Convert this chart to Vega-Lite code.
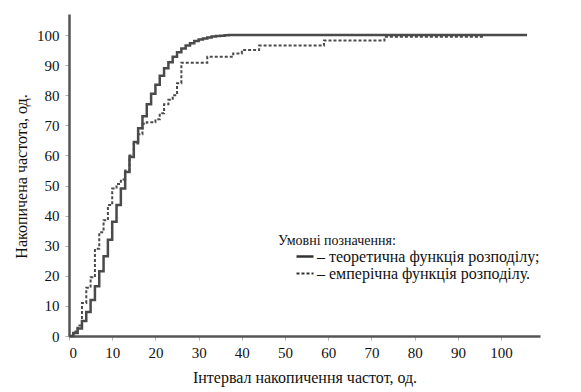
{
  "$schema": "https://vega.github.io/schema/vega-lite/v6.json",
  "width": 471,
  "height": 322,
  "autosize": {"type": "none"},
  "padding": {"left": 69, "top": 14, "right": 41, "bottom": 56},
  "background": "white",
  "config": {
    "view": {"stroke": null},
    "font": "Liberation Serif",
    "axis": {
      "labelFont": "Liberation Serif",
      "titleFont": "Liberation Serif",
      "labelFontSize": 15,
      "titleFontSize": 16,
      "titleFontWeight": "normal",
      "labelColor": "#111",
      "titleColor": "#111",
      "grid": false,
      "labelOverlap": false,
      "domainColor": "#555555",
      "domainWidth": 2.5,
      "tickColor": "#b0b0b0",
      "tickSize": 4
    },
    "legend": {"labelFont": "Liberation Serif", "labelFontSize": 16, "labelColor": "#111"},
    "title": {"font": "Liberation Serif", "fontSize": 14, "fontWeight": "normal", "color": "#111"}
  },
  "title": {
    "text": "Умовні позначення:",
    "anchor": "start",
    "frame": "group",
    "orient": "top",
    "baseline": "middle",
    "offset": 0,
    "dx": 209,
    "dy": 241
  },
  "datasets": {
    "cdf": [
      {"x": 0, "y": 0, "s": "– теоретична функція розподілу;"},
      {"x": 1, "y": 1, "s": "– теоретична функція розподілу;"},
      {"x": 2, "y": 2.5, "s": "– теоретична функція розподілу;"},
      {"x": 3, "y": 5, "s": "– теоретична функція розподілу;"},
      {"x": 4, "y": 8, "s": "– теоретична функція розподілу;"},
      {"x": 5, "y": 12, "s": "– теоретична функція розподілу;"},
      {"x": 6, "y": 16.5, "s": "– теоретична функція розподілу;"},
      {"x": 7, "y": 21.5, "s": "– теоретична функція розподілу;"},
      {"x": 8, "y": 26.5, "s": "– теоретична функція розподілу;"},
      {"x": 9, "y": 32, "s": "– теоретична функція розподілу;"},
      {"x": 10, "y": 38, "s": "– теоретична функція розподілу;"},
      {"x": 11, "y": 43.5, "s": "– теоретична функція розподілу;"},
      {"x": 12, "y": 49, "s": "– теоретична функція розподілу;"},
      {"x": 13, "y": 54.5, "s": "– теоретична функція розподілу;"},
      {"x": 14, "y": 59.5, "s": "– теоретична функція розподілу;"},
      {"x": 15, "y": 64.5, "s": "– теоретична функція розподілу;"},
      {"x": 16, "y": 69, "s": "– теоретична функція розподілу;"},
      {"x": 17, "y": 73, "s": "– теоретична функція розподілу;"},
      {"x": 18, "y": 77, "s": "– теоретична функція розподілу;"},
      {"x": 19, "y": 80.5, "s": "– теоретична функція розподілу;"},
      {"x": 20, "y": 83.5, "s": "– теоретична функція розподілу;"},
      {"x": 21, "y": 86.5, "s": "– теоретична функція розподілу;"},
      {"x": 22, "y": 89, "s": "– теоретична функція розподілу;"},
      {"x": 23, "y": 91, "s": "– теоретична функція розподілу;"},
      {"x": 24, "y": 92.8, "s": "– теоретична функція розподілу;"},
      {"x": 25, "y": 94.3, "s": "– теоретична функція розподілу;"},
      {"x": 26, "y": 95.5, "s": "– теоретична функція розподілу;"},
      {"x": 27, "y": 96.5, "s": "– теоретична функція розподілу;"},
      {"x": 28, "y": 97.3, "s": "– теоретична функція розподілу;"},
      {"x": 29, "y": 98, "s": "– теоретична функція розподілу;"},
      {"x": 30, "y": 98.5, "s": "– теоретична функція розподілу;"},
      {"x": 31, "y": 98.9, "s": "– теоретична функція розподілу;"},
      {"x": 32, "y": 99.2, "s": "– теоретична функція розподілу;"},
      {"x": 33, "y": 99.5, "s": "– теоретична функція розподілу;"},
      {"x": 34, "y": 99.7, "s": "– теоретична функція розподілу;"},
      {"x": 35, "y": 99.8, "s": "– теоретична функція розподілу;"},
      {"x": 36, "y": 99.9, "s": "– теоретична функція розподілу;"},
      {"x": 37, "y": 100, "s": "– теоретична функція розподілу;"},
      {"x": 106, "y": 100, "s": "– теоретична функція розподілу;"},
      {"x": 0, "y": 0, "s": "– емперічна функція розподілу."},
      {"x": 1, "y": 1.5, "s": "– емперічна функція розподілу."},
      {"x": 2, "y": 3.5, "s": "– емперічна функція розподілу."},
      {"x": 3, "y": 11, "s": "– емперічна функція розподілу."},
      {"x": 4, "y": 16, "s": "– емперічна функція розподілу."},
      {"x": 5, "y": 19.5, "s": "– емперічна функція розподілу."},
      {"x": 6, "y": 29, "s": "– емперічна функція розподілу."},
      {"x": 7, "y": 34.5, "s": "– емперічна функція розподілу."},
      {"x": 8, "y": 38.5, "s": "– емперічна функція розподілу."},
      {"x": 9, "y": 43.5, "s": "– емперічна функція розподілу."},
      {"x": 10, "y": 49, "s": "– емперічна функція розподілу."},
      {"x": 11, "y": 50.5, "s": "– емперічна функція розподілу."},
      {"x": 12, "y": 52, "s": "– емперічна функція розподілу."},
      {"x": 13, "y": 55, "s": "– емперічна функція розподілу."},
      {"x": 14, "y": 60, "s": "– емперічна функція розподілу."},
      {"x": 15, "y": 64, "s": "– емперічна функція розподілу."},
      {"x": 16, "y": 67, "s": "– емперічна функція розподілу."},
      {"x": 17, "y": 70.5, "s": "– емперічна функція розподілу."},
      {"x": 18, "y": 71, "s": "– емперічна функція розподілу."},
      {"x": 20, "y": 72, "s": "– емперічна функція розподілу."},
      {"x": 21, "y": 74, "s": "– емперічна функція розподілу."},
      {"x": 22, "y": 77, "s": "– емперічна функція розподілу."},
      {"x": 23, "y": 78.5, "s": "– емперічна функція розподілу."},
      {"x": 24, "y": 80, "s": "– емперічна функція розподілу."},
      {"x": 25, "y": 84, "s": "– емперічна функція розподілу."},
      {"x": 26, "y": 90.8, "s": "– емперічна функція розподілу."},
      {"x": 32, "y": 92.8, "s": "– емперічна функція розподілу."},
      {"x": 38, "y": 93.9, "s": "– емперічна функція розподілу."},
      {"x": 40, "y": 95, "s": "– емперічна функція розподілу."},
      {"x": 44, "y": 96.5, "s": "– емперічна функція розподілу."},
      {"x": 59, "y": 98.2, "s": "– емперічна функція розподілу."},
      {"x": 73, "y": 99.4, "s": "– емперічна функція розподілу."},
      {"x": 96, "y": 99.4, "s": "– емперічна функція розподілу."}
    ]
  },
  "layer": [
    {
      "data": {"name": "cdf"},
      "mark": {"type": "line", "interpolate": "step-after", "clip": false},
      "encoding": {
        "x": {
          "field": "x",
          "type": "quantitative",
          "scale": {"domain": [0, 109], "nice": false, "zero": true},
          "axis": {
            "title": "Інтервал накопичення частот, од.",
            "values": [0, 10, 20, 30, 40, 50, 60, 70, 80, 90, 100],
            "labelPadding": 5,
            "titlePadding": 9
          }
        },
        "y": {
          "field": "y",
          "type": "quantitative",
          "scale": {"domain": [0, 107], "nice": false},
          "axis": {
            "title": "Накопичена частота, од.",
            "values": [0, 10, 20, 30, 40, 50, 60, 70, 80, 90, 100],
            "labelPadding": 6,
            "titleX": -40,
            "titleY": 162
          }
        },
        "strokeDash": {
          "field": "s",
          "type": "nominal",
          "scale": {
            "domain": ["– теоретична функція розподілу;", "– емперічна функція розподілу."],
            "range": [[1, 0], [3, 2]]
          },
          "legend": {
            "orient": "none",
            "legendX": 226,
            "legendY": 236,
            "title": null,
            "symbolType": "stroke",
            "symbolSize": 289,
            "symbolStrokeColor": "#333",
            "symbolStrokeWidth": 1.5,
            "labelOffset": 2,
            "clipHeight": 13,
            "rowPadding": 0,
            "labelLimit": 400
          }
        },
        "strokeWidth": {
          "field": "s",
          "type": "nominal",
          "scale": {
            "domain": ["– теоретична функція розподілу;", "– емперічна функція розподілу."],
            "range": [2.5, 2]
          },
          "legend": null
        },
        "color": {"value": "#4a4a4a"}
      }
    },
    {
      "mark": {"type": "point", "shape": "triangle-right", "filled": true, "size": 30, "color": "#333", "opacity": 1, "clip": false},
      "encoding": {
        "x": {"datum": 109, "type": "quantitative", "axis": {"title": "Інтервал накопичення частот, од.", "values": [0, 10, 20, 30, 40, 50, 60, 70, 80, 90, 100], "labelPadding": 5, "titlePadding": 9}},
        "y": {"datum": 0, "type": "quantitative", "axis": {"title": "Накопичена частота, од.", "values": [0, 10, 20, 30, 40, 50, 60, 70, 80, 90, 100], "labelPadding": 6, "titleX": -40, "titleY": 162}}
      }
    },
    {
      "mark": {"type": "point", "shape": "triangle-up", "filled": true, "size": 30, "color": "#333", "opacity": 1, "clip": false},
      "encoding": {
        "x": {"datum": 0, "type": "quantitative", "axis": {"title": "Інтервал накопичення частот, од.", "values": [0, 10, 20, 30, 40, 50, 60, 70, 80, 90, 100], "labelPadding": 5, "titlePadding": 9}},
        "y": {"datum": 107, "type": "quantitative", "axis": {"title": "Накопичена частота, од.", "values": [0, 10, 20, 30, 40, 50, 60, 70, 80, 90, 100], "labelPadding": 6, "titleX": -40, "titleY": 162}}
      }
    }
  ]
}
